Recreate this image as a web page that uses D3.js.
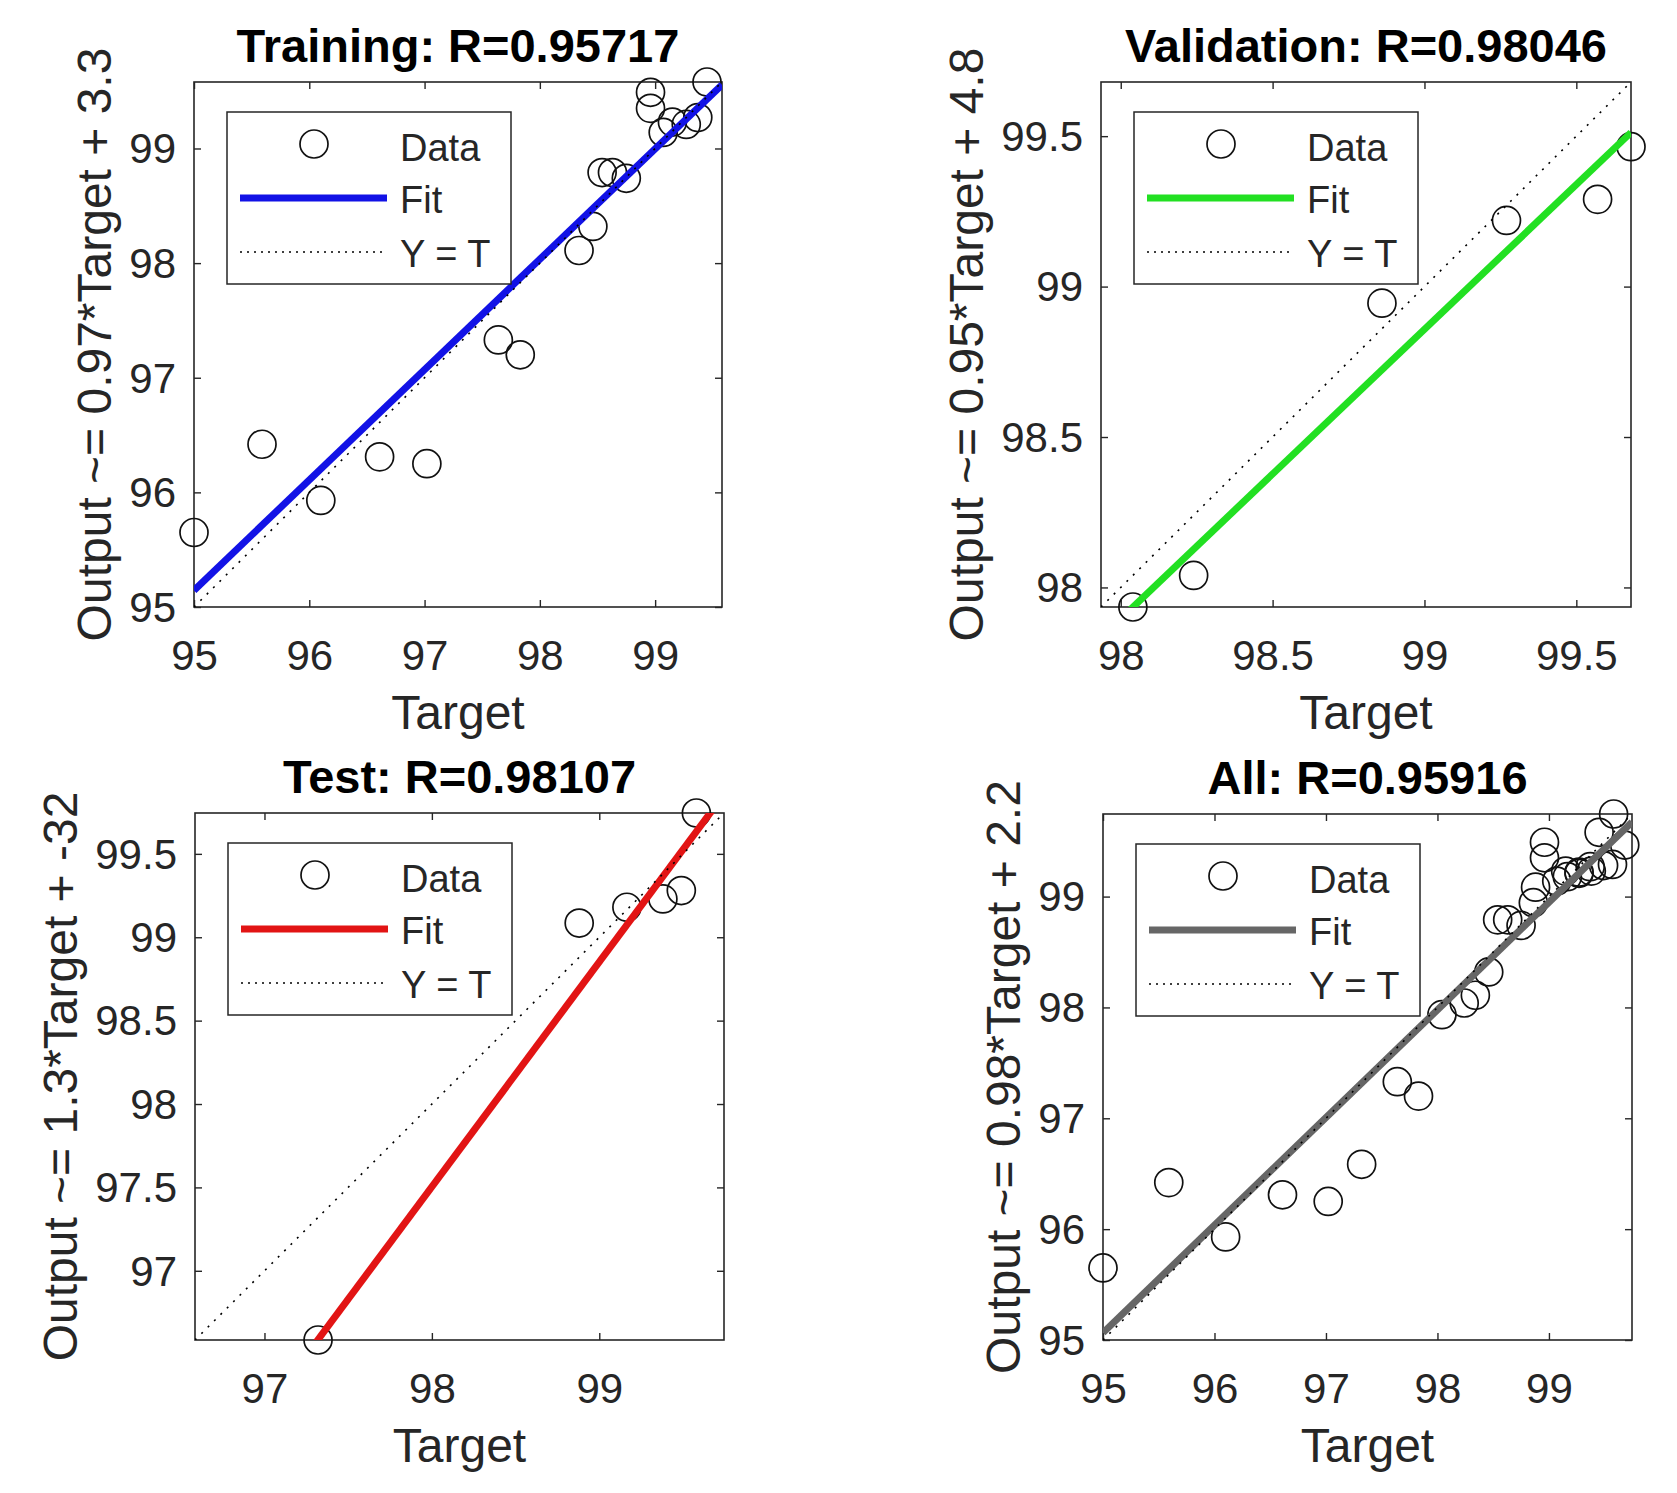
<!DOCTYPE html>
<html>
<head>
<meta charset="utf-8">
<script src="https://cdn.jsdelivr.net/npm/d3@7"></script>
<style>
  body { margin: 0; background: #fff; }
  text { font-family: 'Liberation Sans', Arial, sans-serif; }
</style>
</head>
<body>
<svg id="canvas" width="1677" height="1493"></svg>
<script>
// values
const trainTarget = [95.00, 95.59, 96.10, 96.61, 97.02, 97.64, 97.83, 98.34, 98.46, 98.54, 98.63, 98.75, 98.96, 98.96, 99.07, 99.15, 99.27, 99.37, 99.45];
const trainOutput = [95.65, 96.42, 95.93, 96.31, 96.25, 97.33, 97.20, 98.11, 98.32, 98.79, 98.79, 98.74, 99.49, 99.35, 99.14, 99.23, 99.21, 99.27, 99.58];

const valTarget = [98.04, 98.24, 98.86, 99.27, 99.57, 99.68];
const valOutput = [97.935, 98.04, 98.945, 99.22, 99.29, 99.465];

const testTarget = [97.32, 98.88, 99.165, 99.38, 99.49, 99.58];
const testOutput = [96.585, 99.085, 99.18, 99.23, 99.28, 99.745];

const allTarget = trainTarget.concat(valTarget, testTarget);
const allOutput = trainOutput.concat(valOutput, testOutput);

// fit lines (slope, intercept) as drawn
const fitSlope = [0.963, 0.962, 1.348, 0.971];
const fitIntercept = [3.66, 3.62, -34.6, 2.82];

const titles = ['Training: R=0.95717', 'Validation: R=0.98046', 'Test: R=0.98107', 'All: R=0.95916'];
const yLabels = ['Output ~= 0.97*Target + 3.3', 'Output ~= 0.95*Target + 4.8', 'Output ~= 1.3*Target + -32', 'Output ~= 0.98*Target + 2.2'];
const fitColors = ['#1212e6', '#22e022', '#e21414', '#666666'];

const trainTicks = [95, 96, 97, 98, 99];
const valTicks = [98, 98.5, 99, 99.5];
const testXTicks = [97, 98, 99];
const testYTicks = [97, 97.5, 98, 98.5, 99, 99.5];
const allTicks = [95, 96, 97, 98, 99];

const legendLabels = ['Data', 'Fit', 'Y = T'];

const panels = [
  { left: 194, top: 82, w: 528, h: 525, target: trainTarget, output: trainOutput, xTicks: trainTicks, yTicks: trainTicks },
  { left: 1101, top: 82, w: 530, h: 525, target: valTarget, output: valOutput, xTicks: valTicks, yTicks: valTicks },
  { left: 195, top: 813, w: 529, h: 527, target: testTarget, output: testOutput, xTicks: testXTicks, yTicks: testYTicks },
  { left: 1103, top: 814, w: 529, h: 526, target: allTarget, output: allOutput, xTicks: allTicks, yTicks: allTicks }
];

const svg = d3.select('#canvas');
svg.append('rect').attr('width', 1677).attr('height', 1493).attr('fill', '#fff');

const ink = '#262626';
const fmt = d => String(d);

panels.forEach((p, i) => {
  // same limits on both axes, like plotregression
  const lim = d3.extent(p.target.concat(p.output));
  const x = d3.scaleLinear().domain(lim).range([0, p.w]);
  const y = d3.scaleLinear().domain(lim).range([p.h, 0]);

  svg.append('clipPath').attr('id', 'clip' + i)
    .append('rect').attr('width', p.w).attr('height', p.h);

  const g = svg.append('g').attr('transform', `translate(${p.left},${p.top})`);

  // axes with inward ticks on all four sides
  const styleAxis = a => {
    a.attr('font-size', null).attr('font-family', null).attr('color', ink);
    a.select('.domain').remove();
    a.selectAll('line').attr('stroke-width', 1.4);
  };

  g.append('g').attr('transform', `translate(0,${p.h})`)
    .call(d3.axisBottom(x).tickValues(p.xTicks).tickSize(-7).tickSizeOuter(0).tickFormat(fmt))
    .call(styleAxis)
    .call(a => a.selectAll('text').attr('y', 63).attr('dy', null)
      .attr('font-size', 42).attr('fill', ink));

  g.append('g')
    .call(d3.axisTop(x).tickValues(p.xTicks).tickSize(-7).tickSizeOuter(0).tickFormat(''))
    .call(styleAxis);

  const yAxisG = g.append('g')
    .call(d3.axisLeft(y).tickValues(p.yTicks).tickSize(-7).tickSizeOuter(0).tickFormat(fmt))
    .call(styleAxis)
    .call(a => a.selectAll('text').attr('x', -18).attr('dy', '0.34em')
      .attr('font-size', 42).attr('fill', ink));

  g.append('g').attr('transform', `translate(${p.w},0)`)
    .call(d3.axisRight(y).tickValues(p.yTicks).tickSize(-7).tickSizeOuter(0).tickFormat(''))
    .call(styleAxis);

  g.append('rect')
    .attr('width', p.w).attr('height', p.h)
    .attr('fill', 'none').attr('stroke', ink).attr('stroke-width', 1.6);

  // data circles
  g.append('g').selectAll('circle')
    .data(p.target.map((t, k) => [t, p.output[k]]))
    .join('circle')
    .attr('cx', d => x(d[0]))
    .attr('cy', d => y(d[1]))
    .attr('r', 14)
    .attr('fill', 'none')
    .attr('stroke', '#111')
    .attr('stroke-width', 1.7);

  const line = d3.line().x(d => x(d[0])).y(d => y(d[1]));

  // fit line
  g.append('path')
    .attr('clip-path', `url(#clip${i})`)
    .attr('d', line(lim.map(v => [v, fitSlope[i] * v + fitIntercept[i]])))
    .attr('stroke', fitColors[i])
    .attr('stroke-width', 7)
    .attr('fill', 'none');

  // Y = T
  g.append('path')
    .attr('clip-path', `url(#clip${i})`)
    .attr('d', line(lim.map(v => [v, v])))
    .attr('stroke', '#000')
    .attr('stroke-width', 1.6)
    .attr('stroke-dasharray', '2,7')
    .attr('fill', 'none');

  // legend
  const lg = g.append('g').attr('transform', 'translate(33,30)');
  lg.append('rect')
    .attr('width', 284).attr('height', 172)
    .attr('fill', '#fff').attr('stroke', ink).attr('stroke-width', 1.5);
  lg.append('circle')
    .attr('cx', 87).attr('cy', 32).attr('r', 14)
    .attr('fill', 'none').attr('stroke', '#111').attr('stroke-width', 1.7);
  lg.append('line')
    .attr('x1', 13).attr('x2', 160).attr('y1', 86).attr('y2', 86)
    .attr('stroke', fitColors[i]).attr('stroke-width', 7);
  lg.append('line')
    .attr('x1', 13).attr('x2', 160).attr('y1', 140).attr('y2', 140)
    .attr('stroke', '#000').attr('stroke-width', 1.6).attr('stroke-dasharray', '2,5');
  lg.selectAll('text.leg')
    .data(legendLabels)
    .join('text')
    .attr('class', 'leg')
    .attr('x', 173)
    .attr('y', (d, k) => [49, 101, 155][k])
    .attr('font-size', 38)
    .attr('fill', ink)
    .text(d => d);

  // title
  g.append('text')
    .attr('x', p.w / 2).attr('y', -20)
    .attr('text-anchor', 'middle')
    .attr('font-size', 47).attr('font-weight', 'bold')
    .attr('fill', '#000')
    .text(titles[i]);

  // x label
  g.append('text')
    .attr('x', p.w / 2).attr('y', p.h + 122)
    .attr('text-anchor', 'middle')
    .attr('font-size', 48).attr('fill', ink)
    .text('Target');

  // y label, placed just left of the tick labels
  const bb = yAxisG.node().getBBox();
  g.append('text')
    .attr('transform', `translate(${bb.x - 18},${p.h / 2}) rotate(-90)`)
    .attr('text-anchor', 'middle')
    .attr('font-size', 48).attr('fill', ink)
    .text(yLabels[i]);
});
</script>
</body>
</html>
